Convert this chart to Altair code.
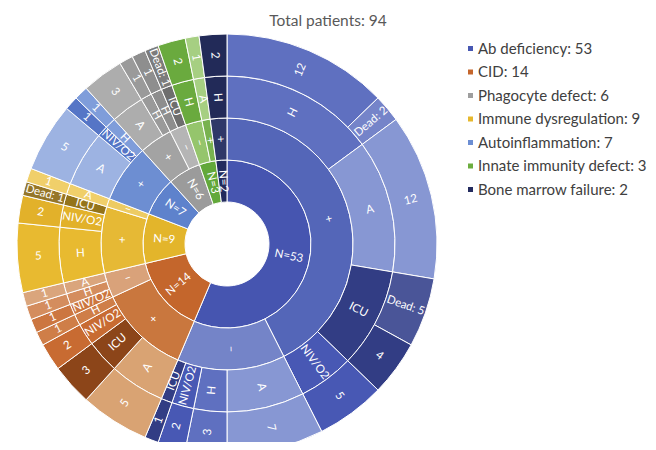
import altair as alt
import pandas as pd

title_text = "Total patients: 94"

# Legend (order as in the reference legend)
legend_names = ["Ab deficiency", "CID", "Phagocyte defect", "Immune dysregulation",
                "Autoinflammation", "Innate immunity defect", "Bone marrow failure"]
legend_counts = [53, 14, 6, 9, 7, 3, 2]

# Leaf level (outer ring) of the sunburst, in clockwise order from 12 o'clock
leaf_category = (["Ab deficiency"] * 10 + ["CID"] * 7 + ["Immune dysregulation"] * 4
                 + ["Autoinflammation"] * 3 + ["Phagocyte defect"] * 4
                 + ["Innate immunity defect"] * 2 + ["Bone marrow failure"] * 1)
leaf_status = ["+", "+", "+", "+", "+", "+", "–", "–", "–", "–",
               "+", "+", "+", "+", "–", "–", "–",
               "+", "+", "+", "–",
               "+", "+", "+",
               "+", "+", "–", "–",
               "–", "+",
               "+"]
leaf_severity = ["H", "H", "A", "ICU", "ICU", "NIV/O2", "A", "H", "NIV/O2", "ICU",
                 "A", "ICU", "NIV/O2", "H", "NIV/O2", "H", "A",
                 "H", "NIV/O2", "ICU", "A",
                 "A", "NIV/O2", "H",
                 "A", "H", "H", "ICU",
                 "H", "A",
                 "H"]
leaf_label = ["12", "Dead: 2", "12", "Dead: 5", "4", "5", "7", "3", "2", "1",
              "5", "3", "2", "1", "1", "1", "1",
              "5", "2", "Dead: 1", "1",
              "5", "1", "1",
              "3", "1", "1", "Dead: 1",
              "2", "1",
              "2"]
leaf_count = [12, 2, 12, 5, 4, 5, 7, 3, 2, 1,
              5, 3, 2, 1, 1, 1, 1,
              5, 2, 1, 1,
              5, 1, 1,
              3, 1, 1, 1,
              2, 1,
              2]

# ---- styles ----
legend_colors = ["#4757B2", "#C5662C", "#9E9E9E", "#E6B82D", "#6C8ED3", "#6CAD3F", "#232B5E"]
palette = {
    "Ab deficiency": {"N": "#4655B0", "+": "#5466B8", "–": "#7484C8", "A": "#8797D3",
                      "H": "#5F70C0", "NIV/O2": "#4858B4", "ICU": "#323D84",
                      "DeadH": "#7584C9", "DeadICU": "#4A5598"},
    "CID": {"N": "#C4662C", "+": "#C9773E", "–": "#D9A27A", "A": "#D9A373",
            "ICU": "#8C4519", "NIV/O2": "#C86B32", "H": "#CF7E48",
            "NIV/O2–": "#CC7640", "H–": "#D48D5E", "A–": "#DAA57C"},
    "Immune dysregulation": {"N": "#E3B52B", "+": "#E6B935", "–": "#EDCB63", "H": "#E8BA30",
                             "NIV/O2": "#E2B12A", "ICU": "#94741A", "A": "#F0CF6A",
                             "DeadICU": "#957628"},
    "Autoinflammation": {"N": "#5E82CC", "+": "#6D8ED2", "A": "#9DB3E2", "NIV/O2": "#5575C6",
                         "H": "#7F9DDA"},
    "Phagocyte defect": {"N": "#9B9B9B", "+": "#A3A3A3", "–": "#B5B5B5", "A": "#ADADAD",
                         "H": "#9A9A9A", "H–": "#8E8E8E", "ICU": "#6E6E6E",
                         "DeadICU": "#7C7C7C"},
    "Innate immunity defect": {"N": "#62A83A", "–": "#95C56C", "+": "#78B24F", "H": "#6AAA3E",
                               "A": "#A6CF82"},
    "Bone marrow failure": {"N": "#232B5E", "+": "#2F3868", "H": "#222A58"},
}

TOTAL = sum(leaf_count)
cum = [0]
for c in leaf_count:
    cum.append(cum[-1] + c)


def runs(keys):
    out = []
    for i, k in enumerate(keys):
        if out and out[-1][0] == k:
            out[-1][2] = i + 1
        else:
            out.append([k, i, i + 1])
    return out


def seg_color(level, cat, status, sev, label):
    p = palette[cat]
    if level == 1:
        return p["N"]
    if level == 2:
        return p[status]
    base = p.get(sev + status, p[sev])
    if level == 4 and label.startswith("Dead"):
        return p.get("Dead" + sev, base)
    return base


n = len(leaf_count)
level_keys = {
    1: [(leaf_category[i],) for i in range(n)],
    2: [(leaf_category[i], leaf_status[i]) for i in range(n)],
    3: [(leaf_category[i], leaf_status[i], leaf_severity[i]) for i in range(n)],
    4: [(leaf_category[i], leaf_status[i], leaf_severity[i], i) for i in range(n)],
}

rows = []
for level, keys in level_keys.items():
    for key, i0, i1 in runs(keys):
        start, end = cum[i0], cum[i1]
        value = end - start
        cat, status, sev = leaf_category[i0], leaf_status[i0], leaf_severity[i0]
        if level == 1:
            label = f"N={value}"
        elif level == 2:
            label = status
        elif level == 3:
            label = sev
        else:
            label = leaf_label[i0]
        mid = (start + end) / 2
        deg = mid / TOTAL * 360
        rot = deg - 90 if deg < 180 else deg - 270
        rows.append({
            "level": level, "r_in": level, "r_out": level + 1, "r_mid": level + 0.5,
            "start": start, "end": end, "mid": mid, "label": label,
            "color": seg_color(level, cat, status, sev, label), "rot": rot,
        })
df = pd.DataFrame(rows)

CX, CY = 219, 206
FONT = "Lato"

theta_scale = alt.Scale(domain=[0, TOTAL], range=[0, 6.283185307179586])
radius_scale = alt.Scale(type="linear", domain=[0, 5], range=[0, 210], zero=True)

arcs = alt.Chart(df).mark_arc(stroke="white", strokeWidth=1).encode(
    theta=alt.Theta("start:Q", scale=theta_scale),
    theta2="end:Q",
    radius=alt.Radius("r_out:Q", scale=radius_scale),
    radius2="r_in:Q",
    fill=alt.Fill("color:N", scale=None),
    x=alt.value(CX),
    y=alt.value(CY),
)

labels = alt.Chart(df).mark_text(color="white", fontSize=11.5, font=FONT).encode(
    theta=alt.Theta("mid:Q", scale=theta_scale, stack=False),
    radius=alt.Radius("r_mid:Q", scale=radius_scale),
    text="label:N",
    angle=alt.Angle("rot:Q", scale=None),
    x=alt.value(CX),
    y=alt.value(CY),
)

legend_labels = [f"{nm}: {c}" for nm, c in zip(legend_names, legend_counts)]
leg_df = pd.DataFrame({"name": legend_labels})
legend_layer = alt.Chart(leg_df).mark_square(opacity=0).encode(
    color=alt.Color(
        "name:N",
        scale=alt.Scale(domain=legend_labels, range=legend_colors),
        legend=alt.Legend(
            title=None, orient="none", legendX=455, legendY=3,
            symbolType="square", symbolSize=25, symbolOpacity=1, symbolStrokeWidth=0,
            labelFontSize=15, labelFont=FONT, labelColor="#404040",
            rowPadding=7.5, labelOffset=0, padding=0, labelLimit=300,
        ),
    ),
    x=alt.value(CX),
    y=alt.value(CY),
)

chart = alt.layer(legend_layer, arcs, labels).properties(
    width=640,
    height=404,
    padding={"left": 0, "top": 30, "right": 0, "bottom": 0},
    autosize=alt.AutoSizeParams(type="none"),
    title=alt.Title(title_text, fontSize=15.5, font=FONT, fontWeight="normal",
                    color="#595959", anchor="middle", offset=3),
).configure_view(stroke=None)

chart.save("out.html", embed_options={"renderer": "svg", "actions": False})
